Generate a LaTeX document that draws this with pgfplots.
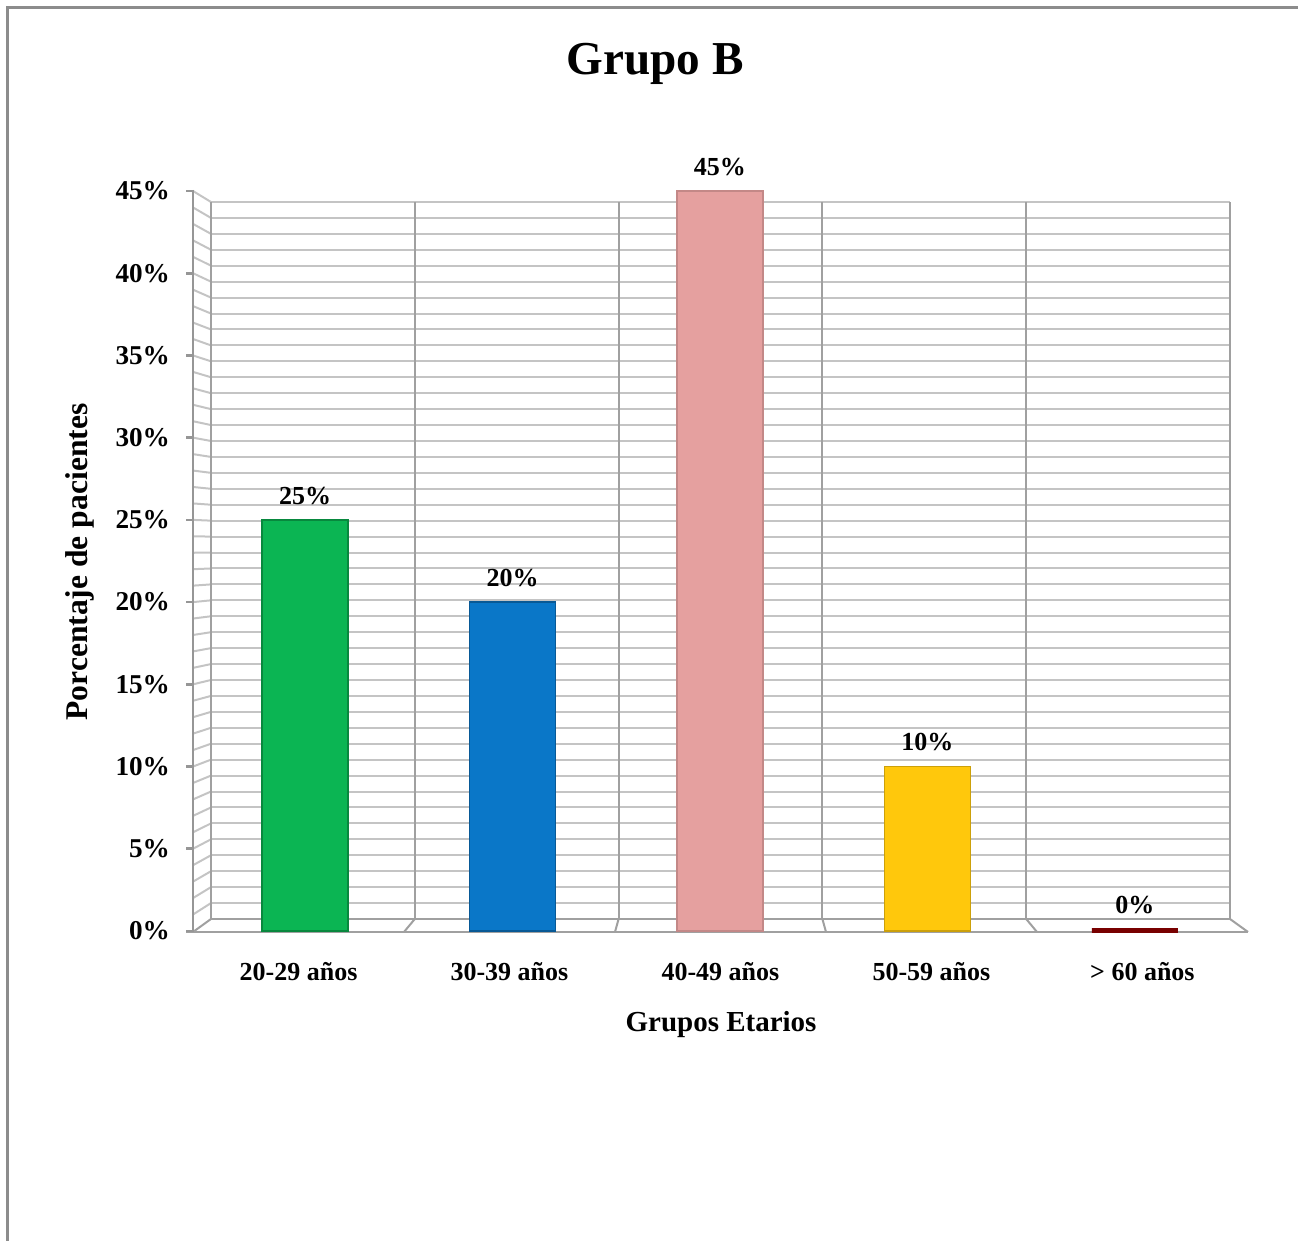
\documentclass[border=0pt]{standalone}
\usepackage{pgfplots}
\pgfplotsset{compat=1.18}
\usepackage{fontspec}
\setmainfont{Liberation Serif}
\definecolor{cgreen}{HTML}{0BB553}
\definecolor{cblue}{HTML}{0A77C8}
\definecolor{cpink}{HTML}{E5A09F}
\definecolor{cyellow}{HTML}{FFC80C}
\definecolor{cdred}{HTML}{780000}
\definecolor{gridh}{RGB}{196,196,196}
\definecolor{gridv}{RGB}{160,160,160}
\definecolor{axisc}{RGB}{150,150,150}
\definecolor{framec}{RGB}{140,140,140}
\begin{document}
\begin{tikzpicture}
\begin{scope}[x=0.5pt,y=-0.5pt,yshift=620.5pt]
  % outer frame
  \draw[framec, line width=1.5pt] (7,1300) -- (7,8) -- (1340,8);
  % back wall horizontals and left wall slants
  \foreach \v in {1,...,45} {
    \draw[gridh, line width=1pt] (211,{919-15.933*\v}) -- (1230,{919-15.933*\v});
    \draw[gridh, line width=1pt] (193,{931-16.444*\v}) -- (211,{919-15.933*\v});
  }
  % back wall verticals
  \foreach \k in {0,...,5} {
    \draw[gridv, line width=1pt] ({211+203.8*\k},202) -- ({211+203.8*\k},919);
    \draw[gridv, line width=1pt] ({211+203.8*\k},919) -- ({193+211*\k},932);
  }
  % back floor edge
  \draw[gridv, line width=1pt] (211,919) -- (1230,919);
  % front floor edge
  \draw[gridv, line width=1.3pt] (186,932) -- (1248,932);
  % front y axis
  \draw[axisc, line width=1.3pt] (193,190) -- (193,932);
  \foreach \v in {0,5,...,45} {
    \draw[axisc, line width=1.3pt] (186,{931-16.444*\v}) -- (193,{931-16.444*\v});
  }
\end{scope}
\begin{axis}[
  at={(96.5pt,155pt)}, anchor=south west,
  scale only axis, width=527.5pt, height=370pt,
  xmin=-0.54, xmax=4.545, ymin=0, ymax=45,
  ybar, bar width=43pt,
  axis line style={draw=none},
  major tick length=0pt,
  xtick={-0.031,0.985,2.002,3.019,4.036},
  xticklabels={20-29 años,30-39 años,40-49 años,50-59 años,> 60 años},
  ytick={0,5,...,45},
  yticklabels={0\%,5\%,10\%,15\%,20\%,25\%,30\%,35\%,40\%,45\%},
  xticklabel style={font=\bfseries\fontsize{13}{15}\selectfont, yshift=-12pt},
  yticklabel style={font=\bfseries\fontsize{13.6}{15}\selectfont, xshift=-8pt},
  xlabel={Grupos Etarios},
  ylabel={Porcentaje de pacientes},
  xlabel style={font=\bfseries\fontsize{14.5}{17}\selectfont, at={(axis description cs:0.5005,-0.127)}, anchor=center},
  ylabel style={font=\bfseries\fontsize{15.8}{18}\selectfont, at={(axis description cs:-0.107,0.4986)}, anchor=center, rotate=0},
  title={Grupo B},
  title style={font=\bfseries\fontsize{23.6}{26}\selectfont, at={(axis description cs:0.438,1.155)}, anchor=center},
  nodes near coords={\pgfmathprintnumber[assume math mode=true]{\pgfplotspointmeta}\%},
  every node near coord/.append style={font=\bfseries\fontsize{13}{15}\selectfont, yshift=4pt, text=black},
  clip=false,
]
\addplot[bar shift=0pt, fill=cgreen, draw=cgreen!75!black, line width=0.8pt] coordinates {(0,25)};
\addplot[bar shift=0pt, fill=cblue, draw=cblue!75!black, line width=0.8pt] coordinates {(1,20)};
\addplot[bar shift=0pt, fill=cpink, draw=cpink!85!black, line width=0.8pt] coordinates {(2,45)};
\addplot[bar shift=0pt, fill=cyellow, draw=cyellow!80!black, line width=0.8pt] coordinates {(3,10)};
\addplot[bar shift=0pt, fill=cdred, draw=cdred, line width=2.5pt] coordinates {(4,0)};
\end{axis}
\pgfresetboundingbox
\path[use as bounding box] (0,0) rectangle (649pt,620.5pt);
\end{tikzpicture}
\end{document}
